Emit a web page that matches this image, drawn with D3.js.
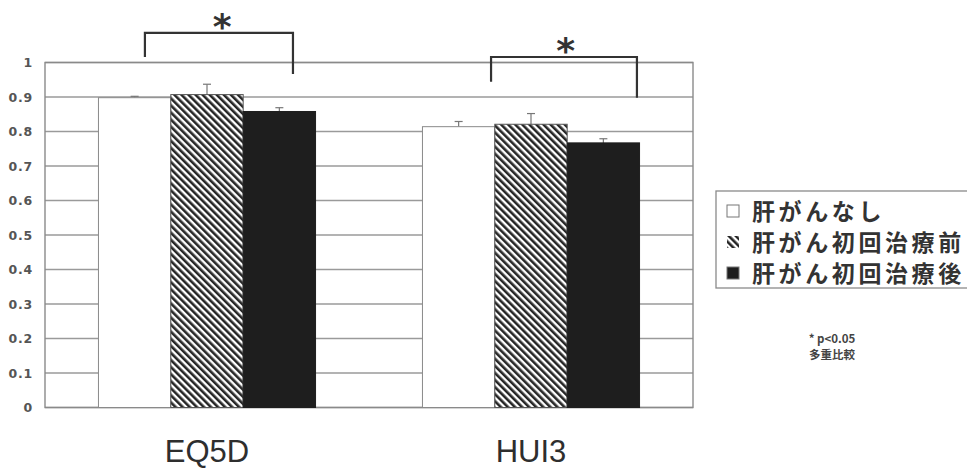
<!DOCTYPE html>
<html>
<head>
<meta charset="utf-8">
<script src="https://cdn.jsdelivr.net/npm/d3@7"></script>
<style>
  body { margin: 0; background: #fff; }
  svg { display: block; }
</style>
</head>
<body>
<div class="chart"></div>
<script>
// values
var groups = ["EQ5D", "HUI3"];
var seriesNames = ["肝がんなし", "肝がん初回治療前", "肝がん初回治療後"];
var eq5dValues = [0.898, 0.907, 0.858];
var eq5dErrors = [0.004, 0.030, 0.011];
var hui3Values = [0.814, 0.821, 0.767];
var hui3Errors = [0.015, 0.031, 0.012];
var yTicks = [0, 0.1, 0.2, 0.3, 0.4, 0.5, 0.6, 0.7, 0.8, 0.9, 1];
var noteLines = ["* p<0.05", "多重比較"];

// significance brackets: ends as share of group width, heights in y units
var brackets = [
    { group: "EQ5D", from: 0.214, to: 0.896, top: 1.086, leftEnd: 1.016, rightEnd: 0.967, star: 0.57 },
    { group: "HUI3", from: 0.316, to: 0.988, top: 1.016, leftEnd: 0.944, rightEnd: 0.898, star: 0.66 }
];

var width = 967, height = 471;
var plot = { left: 45, right: 693, top: 62.5, bottom: 407.5 };

var svg = d3.select(".chart")
    .append("svg")
    .attr("width", width)
    .attr("height", height)
    .style("font-family", "'Liberation Sans', Arial, sans-serif");

var defs = svg.append("defs");
var hatch = defs.append("pattern")
    .attr("id", "hatch")
    .attr("patternUnits", "userSpaceOnUse")
    .attr("width", 5)
    .attr("height", 5)
    .attr("patternTransform", "rotate(-45)");
hatch.append("rect").attr("width", 5).attr("height", 5).attr("fill", "#fff");
hatch.append("rect").attr("width", 2.6).attr("height", 5).attr("fill", "#262626");

var fills = ["#ffffff", "url(#hatch)", "#1e1e1e"];
var strokes = ["#8a8a8a", "#555", "#1e1e1e"];

var x = d3.scaleBand()
    .domain(groups)
    .range([plot.left, plot.right])
    .paddingInner(0.33)
    .paddingOuter(0.165);

var xInner = d3.scaleBand()
    .domain(seriesNames)
    .range([0, x.bandwidth()]);

var y = d3.scaleLinear()
    .domain([0, 1])
    .range([plot.bottom, plot.top]);

// gridlines
svg.append("g")
    .selectAll("line")
    .data(yTicks)
    .enter()
    .append("line")
    .attr("x1", plot.left)
    .attr("x2", plot.right)
    .attr("y1", function (d) { return y(d); })
    .attr("y2", function (d) { return y(d); })
    .attr("stroke", "#9a9a9a")
    .attr("stroke-width", 1.3);

// frame
svg.append("rect")
    .attr("x", plot.left)
    .attr("y", y(1))
    .attr("width", plot.right - plot.left)
    .attr("height", y(0) - y(1))
    .attr("fill", "none")
    .attr("stroke", "#8a8a8a")
    .attr("stroke-width", 1.4);

// y axis labels
var yAxis = d3.axisLeft(y).tickValues(yTicks).tickSize(0).tickPadding(12)
    .tickFormat(function (d) { return d === 0 || d === 1 ? d3.format("d")(d) : d3.format(".1f")(d); });
var yg = svg.append("g")
    .attr("transform", "translate(" + plot.left + ",0)")
    .call(yAxis);
yg.select(".domain").remove();
yg.selectAll("text")
    .style("font-family", "'DejaVu Sans', sans-serif")
    .style("font-size", "12.5px")
    .style("font-weight", "bold")
    .style("letter-spacing", "0.8px")
    .attr("fill", "#555");

var rows = [];
groups.forEach(function (g) {
    var vals = g === "EQ5D" ? eq5dValues : hui3Values;
    var errs = g === "EQ5D" ? eq5dErrors : hui3Errors;
    seriesNames.forEach(function (s, i) {
        rows.push({ group: g, series: s, index: i, value: vals[i], err: errs[i] });
    });
});

// error bars (behind bars, only the upper part shows)
var eb = svg.append("g").selectAll("g")
    .data(rows)
    .enter()
    .append("g")
    .attr("stroke", "#777")
    .attr("stroke-width", 1.2);
eb.append("line")
    .attr("x1", function (d) { return x(d.group) + xInner(d.series) + xInner.bandwidth() / 2; })
    .attr("x2", function (d) { return x(d.group) + xInner(d.series) + xInner.bandwidth() / 2; })
    .attr("y1", function (d) { return y(d.value); })
    .attr("y2", function (d) { return y(d.value + d.err); });
eb.append("line")
    .attr("x1", function (d) { return x(d.group) + xInner(d.series) + xInner.bandwidth() / 2 - 4; })
    .attr("x2", function (d) { return x(d.group) + xInner(d.series) + xInner.bandwidth() / 2 + 4; })
    .attr("y1", function (d) { return y(d.value + d.err); })
    .attr("y2", function (d) { return y(d.value + d.err); });

// bars
svg.append("g").selectAll("rect")
    .data(rows)
    .enter()
    .append("rect")
    .attr("x", function (d) { return x(d.group) + xInner(d.series); })
    .attr("y", function (d) { return y(d.value); })
    .attr("width", xInner.bandwidth())
    .attr("height", function (d) { return y(0) - y(d.value); })
    .attr("fill", function (d) { return fills[d.index]; })
    .attr("stroke", function (d) { return strokes[d.index]; })
    .attr("stroke-width", 1);

// x labels
svg.append("g").selectAll("text")
    .data(groups)
    .enter()
    .append("text")
    .attr("x", function (d) { return x(d) + x.bandwidth() / 2; })
    .attr("y", 462)
    .attr("text-anchor", "middle")
    .style("font-size", "31px")
    .attr("fill", "#2e2e2e")
    .text(function (d) { return d; });

// significance brackets
var br = svg.append("g").selectAll("g")
    .data(brackets)
    .enter()
    .append("g");
br.append("path")
    .attr("d", function (d) {
        var x0 = x(d.group) + d.from * x.bandwidth();
        var x1 = x(d.group) + d.to * x.bandwidth();
        return "M" + x0 + "," + y(d.leftEnd) + "V" + y(d.top) + "H" + x1 + "V" + y(d.rightEnd);
    })
    .attr("fill", "none")
    .attr("stroke", "#333")
    .attr("stroke-width", 2.2);
br.append("text")
    .attr("x", function (d) { return x(d.group) + d.star * x.bandwidth(); })
    .attr("y", function (d) { return y(d.top) + 6; })
    .attr("text-anchor", "middle")
    .style("font-family", "'DejaVu Sans', sans-serif")
    .style("font-size", "36px")
    .style("font-weight", "bold")
    .attr("fill", "#333")
    .text("*");

// legend
var legend = svg.append("g").attr("transform", "translate(716,191)");
legend.append("rect")
    .attr("width", 260)
    .attr("height", 97)
    .attr("fill", "#fff")
    .attr("stroke", "#8a8a8a")
    .attr("stroke-width", 1.3);
var li = legend.selectAll("g.item")
    .data(seriesNames)
    .enter()
    .append("g")
    .attr("class", "item")
    .attr("transform", function (d, i) { return "translate(11," + (14 + i * 31) + ")"; });
li.append("rect")
    .attr("width", 12)
    .attr("height", 12)
    .attr("fill", function (d, i) { return fills[i]; })
    .attr("stroke", function (d, i) { return i === 1 ? "none" : "#777"; });
li.append("text")
    .attr("x", 25)
    .attr("y", 15)
    .style("font-family", "'Noto Sans CJK JP', sans-serif")
    .style("font-size", "23px")
    .style("font-weight", "bold")
    .style("letter-spacing", "3.6px")
    .attr("fill", "#333")
    .text(function (d) { return d; });

// note
svg.append("g").selectAll("text")
    .data(noteLines)
    .enter()
    .append("text")
    .attr("x", 832)
    .attr("y", function (d, i) { return 343 + i * 16; })
    .attr("text-anchor", "middle")
    .style("font-family", "'Noto Sans CJK JP', sans-serif")
    .style("font-size", "11.5px")
    .style("font-weight", "bold")
    .attr("fill", "#444")
    .text(function (d) { return d; });
</script>
</body>
</html>
